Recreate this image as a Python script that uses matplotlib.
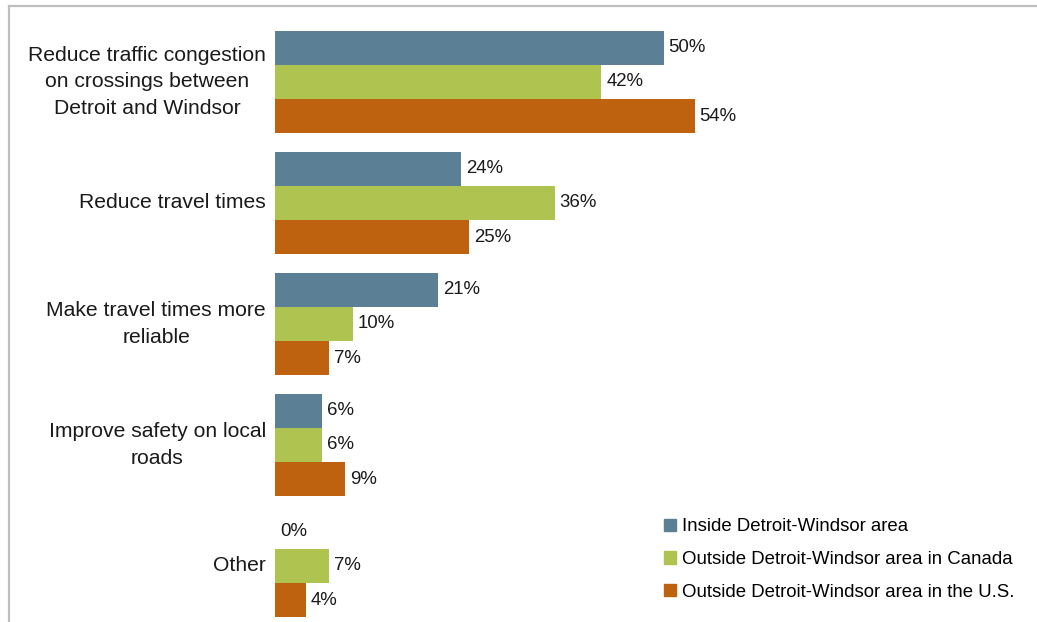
import matplotlib.pyplot as plt
from matplotlib.lines import Line2D
from matplotlib.patches import Patch
import numpy as np

plt.rcParams['font.family'] = ['Liberation Sans', 'DejaVu Sans']

categories = ['Reduce traffic congestion\non crossings between\nDetroit and Windsor',
              'Reduce travel times',
              'Make travel times more\nreliable',
              'Improve safety on local\nroads',
              'Other']
series = ['Inside Detroit-Windsor area',
          'Outside Detroit-Windsor area in Canada',
          'Outside Detroit-Windsor area in the U.S.']
inside = [50, 24, 21, 6, 0]
canada = [42, 36, 10, 6, 7]
us = [54, 25, 7, 9, 4]
colors = ['#5B7F95', '#AFC351', '#BE6210']

W, H = 1037, 622
fig = plt.figure(figsize=(W / 100, H / 100), dpi=100)
# axes spans from x=275px to right edge, full height
ax = fig.add_axes([275 / W, 0, 1 - 275 / W, 1])

y = np.arange(len(categories))
bh = 0.281
for k, (vals, col) in enumerate(zip([inside, canada, us], colors)):
    pos = y + (k - 1) * bh
    ax.barh(pos, vals, height=bh, color=col, label=series[k])
    for p, v in zip(pos, vals):
        ax.annotate(f'{v}%', (v, p), xytext=(5, 0), textcoords='offset pixels',
                    va='center', ha='left', fontsize=13.4, color='#1a1a1a')

ax.set_xlim(0, 762 / 7.77)
ax.set_ylim((622 - 82) / 121, -82 / 121)
ax.axis('off')

for i, c in enumerate(categories):
    ax.annotate(c, (0, i), xytext=(-9, 0), textcoords='offset pixels',
                ha='right', va='center', multialignment='center',
                fontsize=15.2, linespacing=1.47, color='#1a1a1a',
                annotation_clip=False)

handles = [Patch(color=c) for c in colors]
fig.legend(handles, series, loc='upper left', bbox_to_anchor=(655 / W, 1 - 509 / H),
           frameon=False, fontsize=13.4, handlelength=0.65, handleheight=0.65,
           handletextpad=0.3, labelspacing=0.84, borderpad=0)

# light gray frame at top and left
fig.add_artist(Line2D([9 / W, 1], [1 - 5.5 / H, 1 - 5.5 / H], color='#BFBFBF', lw=1.6))
fig.add_artist(Line2D([9 / W, 9 / W], [0, 1 - 5.5 / H], color='#BFBFBF', lw=1.6))

fig.savefig('out.png', dpi=100)
